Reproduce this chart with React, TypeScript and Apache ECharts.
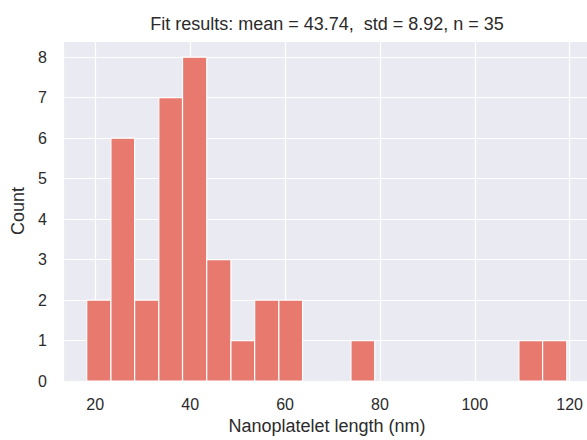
import React, { useEffect, useRef } from "react";
import * as echarts from "echarts";

// Histogram bin edges (nm) and counts
const binEdges = [18.2, 23.3, 28.3, 33.4, 38.4, 43.5, 48.6, 53.6, 58.7, 63.7, 68.8, 73.9, 78.9, 84.0, 89.0, 94.1, 99.2, 104.2, 109.3, 114.3, 119.4];
const counts = [2, 6, 2, 7, 8, 3, 1, 2, 2, 0, 0, 1, 0, 0, 0, 0, 0, 0, 1, 1];
const titleText = "Fit results: mean = 43.74,  std = 8.92, n = 35";
const xAxisName = "Nanoplatelet length (nm)";
const yAxisName = "Count";

const FONT = '"Liberation Sans", Arial, Helvetica, sans-serif';
const TEXT = "#2b2b2b";

export default function App() {
  const ref = useRef<HTMLDivElement>(null);

  useEffect(() => {
    if (!ref.current) return;
    const chart = echarts.init(ref.current, null, { renderer: "svg" });

    const data = counts
      .map((c, i) => [binEdges[i], binEdges[i + 1], c])
      .filter((d) => d[2] > 0);

    chart.setOption({
      animation: false,
      backgroundColor: "#ffffff",
      textStyle: { fontFamily: FONT },
      graphic: [
        {
          type: "text",
          x: 327,
          y: 24,
          style: {
            text: titleText,
            fill: TEXT,
            font: `18px ${FONT}`,
            textAlign: "center",
            textVerticalAlign: "middle",
          },
        },
      ],
      grid: {
        left: 63,
        right: 0,
        top: 41,
        bottom: 55,
        show: true,
        backgroundColor: "#EAEAF2",
        borderWidth: 0,
      },
      xAxis: {
        type: "value",
        min: 13.2,
        max: 124.5,
        name: xAxisName,
        nameLocation: "middle",
        nameGap: 30,
        nameTextStyle: { color: TEXT, fontSize: 18, fontFamily: FONT },
        axisLine: { show: false },
        axisTick: { show: false },
        axisLabel: {
          color: TEXT,
          fontSize: 16,
          fontFamily: FONT,
          margin: 15,
          showMinLabel: false,
          showMaxLabel: false,
        },
        splitLine: { show: true, lineStyle: { color: "#ffffff", width: 1.2 } },
      },
      yAxis: {
        type: "value",
        min: 0,
        max: 8.4,
        interval: 1,
        name: yAxisName,
        nameLocation: "middle",
        nameGap: 31,
        nameTextStyle: { color: TEXT, fontSize: 18, fontFamily: FONT },
        axisLine: { show: false },
        axisTick: { show: false },
        axisLabel: {
          color: TEXT,
          fontSize: 16,
          fontFamily: FONT,
          margin: 16,
          showMaxLabel: false,
        },
        splitLine: { show: true, lineStyle: { color: "#ffffff", width: 1.2 } },
      },
      series: [
        {
          type: "custom",
          data,
          encode: { x: [0, 1], y: 2 },
          renderItem: (params: any, api: any) => {
            const x0 = api.value(0);
            const x1 = api.value(1);
            const c = api.value(2);
            const p0 = api.coord([x0, c]);
            const p1 = api.coord([x1, 0]);
            return {
              type: "rect",
              shape: {
                x: p0[0],
                y: p0[1],
                width: p1[0] - p0[0],
                height: p1[1] - p0[1],
              },
              style: { fill: "#E8796F", stroke: "#ffffff", lineWidth: 1.2 },
            };
          },
        },
      ],
    });

    return () => chart.dispose();
  }, []);

  return (
    <div
      ref={ref}
      style={{ position: "fixed", left: 0, top: 0, width: 591, height: 440 }}
    />
  );
}
